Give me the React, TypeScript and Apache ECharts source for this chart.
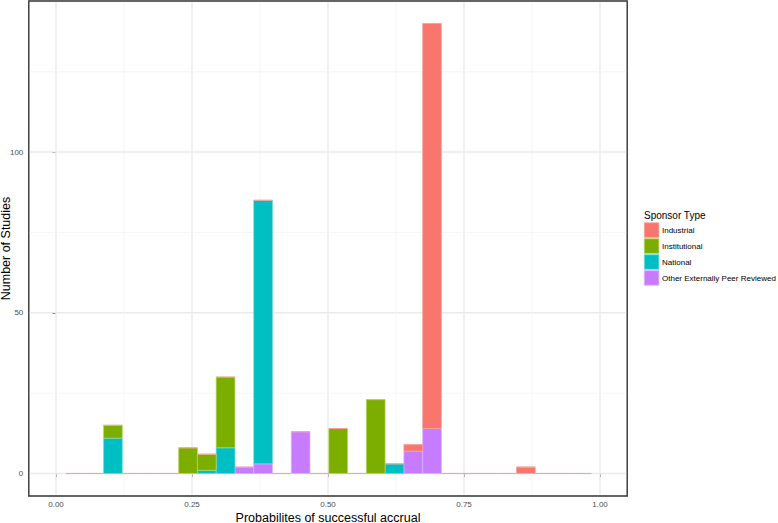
import React, { useEffect, useRef } from "react";
import * as echarts from "echarts";

// ---- data ----
const sponsorTypes = ["Industrial", "Institutional", "National", "Other Externally Peer Reviewed"];
const sponsorColors = ["#F8766D", "#7CAE00", "#00BFC4", "#C77CFF"];
const sponsorEdge = ["#F9A29B", "#B7D466", "#70DADD", "#DDB5FF"];

// histogram bin centers (probability of successful accrual)
const binCenters = [
  0.0357, 0.0702, 0.1047, 0.1392, 0.1737, 0.2082, 0.2427, 0.2772, 0.3117, 0.3462,
  0.3807, 0.4152, 0.4497, 0.4842, 0.5187, 0.5532, 0.5877, 0.6222, 0.6567, 0.6912,
  0.7257, 0.7602, 0.7947, 0.8292, 0.8637, 0.8982, 0.9327, 0.9672,
];
const BIN_WIDTH = 0.0345;

const industrial = [0, 0, 0, 0, 0, 0, 0, 0, 0, 0, 0, 0, 0, 0, 0, 0, 0, 0, 2, 126, 0, 0, 0, 0, 2, 0, 0, 0];
const institutional = [0, 0, 4, 0, 0, 0, 8, 5, 22, 0, 0, 0, 0, 0, 14, 0, 23, 0, 0, 0, 0, 0, 0, 0, 0, 0, 0, 0];
const national = [0, 0, 11, 0, 0, 0, 0, 1, 8, 0, 82, 0, 0, 0, 0, 0, 0, 3, 0, 0, 0, 0, 0, 0, 0, 0, 0, 0];
const otherPeer = [0, 0, 0, 0, 0, 0, 0, 0, 0, 2, 3, 0, 13, 0, 0, 0, 0, 0, 7, 14, 0, 0, 0, 0, 0, 0, 0, 0];

const xTicks = [0, 0.25, 0.5, 0.75, 1];
const xMinor = [0.125, 0.375, 0.625, 0.875];
const yTicks = [0, 50, 100];
const yMinor = [25, 75, 125];

const X_MIN = -0.05;
const X_MAX = 1.05;
const Y_MIN = -7;
const Y_MAX = 147;

const FONT = "'Liberation Sans', Arial, Helvetica, sans-serif";

export default function App() {
  const ref = useRef<HTMLDivElement>(null);

  useEffect(() => {
    if (!ref.current) return;
    const chart = echarts.init(ref.current, undefined, { renderer: "svg" });

    // stack bottom-up: Other, National, Institutional, Industrial
    const valuesBySponsor = [industrial, institutional, national, otherPeer];
    const stackOrder = [3, 2, 1, 0];
    const bases = binCenters.map(() => 0);
    const barSeries: any[] = [];
    stackOrder.forEach((si, k) => {
      const vals = valuesBySponsor[si];
      const data = binCenters.map((c, i) => {
        const item = [c, bases[i], vals[i]];
        bases[i] += vals[i];
        return item;
      });
      const isTop = k === stackOrder.length - 1;
      barSeries.push({
        type: "custom",
        name: sponsorTypes[si],
        z: 3 + k,
        data,
        renderItem: (params: any, api: any) => {
          const c = api.value(0);
          const b = api.value(1);
          const v = api.value(2);
          const p0 = api.coord([c - BIN_WIDTH / 2, b]);
          const p1 = api.coord([c + BIN_WIDTH / 2, b + v]);
          const children: any[] = [];
          if (v > 0) {
            children.push({
              type: "rect",
              shape: { x: p0[0], y: p1[1], width: p1[0] - p0[0], height: p0[1] - p1[1] },
              style: { fill: sponsorColors[si], stroke: sponsorEdge[si], lineWidth: 0.7 },
            });
          }
          if (isTop) {
            children.push({
              type: "line",
              shape: { x1: p0[0], y1: p1[1], x2: p1[0], y2: p1[1] },
              style: { stroke: sponsorEdge[si], lineWidth: 1.1 },
            });
          }
          return { type: "group", children };
        },
      });
    });

    const gridData: any[] = [];
    xTicks.forEach((v) => gridData.push([0, v, 1]));
    xMinor.forEach((v) => gridData.push([0, v, 0]));
    yTicks.forEach((v) => gridData.push([1, v, 1]));
    yMinor.forEach((v) => gridData.push([1, v, 0]));

    const gridSeries = {
      type: "custom",
      z: 1,
      silent: true,
      data: gridData,
      renderItem: (params: any, api: any) => {
        const horiz = api.value(0) === 1;
        const v = api.value(1);
        const major = api.value(2) === 1;
        const cs = params.coordSys;
        const style = { stroke: major ? "#EBEBEB" : "#F3F3F3", lineWidth: major ? 1.4 : 0.8 };
        if (horiz) {
          const y = api.coord([0, v])[1];
          return { type: "line", shape: { x1: cs.x + 1, y1: y, x2: cs.x + cs.width - 1, y2: y }, style };
        }
        const x = api.coord([v, 0])[0];
        return { type: "line", shape: { x1: x, y1: cs.y + 1, x2: x, y2: cs.y + cs.height - 1 }, style };
      },
    };

    const legendGraphics: any[] = [
      {
        type: "text",
        left: 644,
        top: 210,
        style: { text: "Sponsor Type", fontSize: 10, fontFamily: FONT, fill: "#000" },
      },
    ];
    sponsorTypes.forEach((name, i) => {
      const y = 222.8 + i * 15.95;
      legendGraphics.push({
        type: "rect",
        shape: { x: 644.3, y, width: 14.6, height: 14.6 },
        style: { fill: sponsorColors[i], stroke: sponsorEdge[i], lineWidth: 0.8 },
      });
      legendGraphics.push({
        type: "text",
        x: 662,
        y: y + 7.6,
        style: {
          text: name,
          fontSize: 8,
          fontFamily: FONT,
          fill: "#000",
          verticalAlign: "middle",
          align: "left",
        },
      });
    });

    chart.setOption({
      animation: false,
      backgroundColor: "#fff",
      grid: {
        left: 28.8,
        right: 778 - 627.2,
        top: 1,
        bottom: 523 - 496,
        show: true,
        borderColor: "#333333",
        borderWidth: 1.4,
        backgroundColor: "transparent",
        containLabel: false,
        outerBoundsMode: "none",
      },
      xAxis: {
        type: "value",
        min: X_MIN,
        max: X_MAX,
        splitLine: { show: false },
        axisLine: { show: false },
        axisTick: { show: true, customValues: xTicks, length: 3.5, lineStyle: { color: "#333333", width: 1 } },
        axisLabel: {
          customValues: xTicks,
          formatter: (v: number) => v.toFixed(2),
          fontSize: 8,
          color: "#4D4D4D",
          fontFamily: FONT,
          margin: 4,
        },
        name: "Probabilites of successful accrual",
        nameLocation: "middle",
        nameGap: 15,
        nameMoveOverlap: false,
        nameTextStyle: { fontSize: 12.5, color: "#000", fontFamily: FONT },
      },
      yAxis: {
        type: "value",
        min: Y_MIN,
        max: Y_MAX,
        splitLine: { show: false },
        axisLine: { show: false },
        axisTick: { show: true, customValues: yTicks, length: 3.5, lineStyle: { color: "#333333", width: 1 } },
        axisLabel: {
          customValues: yTicks,
          fontSize: 8,
          color: "#4D4D4D",
          fontFamily: FONT,
          margin: 5.5,
        },
        name: "Number of Studies",
        nameLocation: "middle",
        nameGap: 16,
        nameMoveOverlap: false,
        nameTextStyle: { fontSize: 12.5, color: "#000", fontFamily: FONT },
      },
      graphic: legendGraphics,
      series: [gridSeries, ...barSeries],
    });

    return () => chart.dispose();
  }, []);

  return (
    <div
      ref={ref}
      style={{ position: "fixed", left: 0, top: 0, width: 778, height: 523, background: "#fff" }}
    />
  );
}
